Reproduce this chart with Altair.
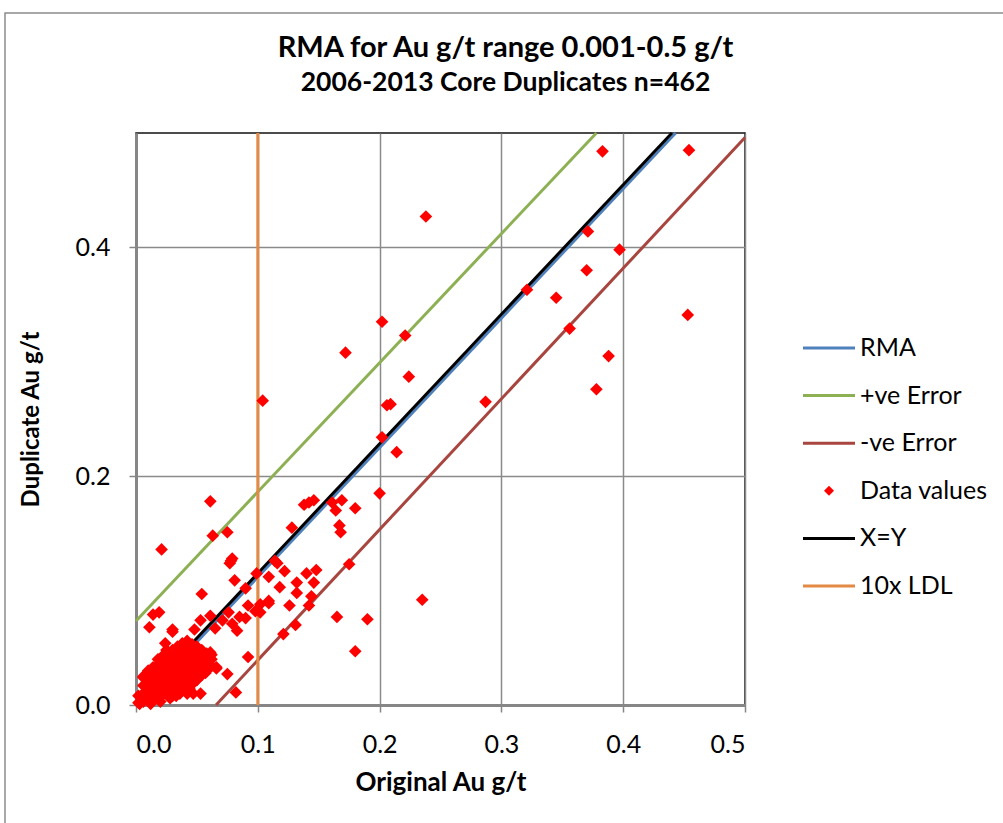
import altair as alt
import pandas as pd

TITLE = "RMA for Au g/t range 0.001-0.5 g/t"
SUBTITLE = "2006-2013 Core Duplicates n=462"
X_TITLE = "Original Au g/t"
Y_TITLE = "Duplicate Au g/t"

series_names = ["RMA", "+ve Error", "-ve Error", "Data values", "X=Y", "10x LDL"]
series_colors = ["#4F81BD", "#8EB054", "#A8453F", "#FF0000", "#000000", "#E48A45"]

x_ticks = [0.0, 0.1, 0.2, 0.3, 0.4, 0.5]
y_ticks = [0.0, 0.2, 0.4]

# line end points
rma_x = [0.048, 0.443]
rma_y = [0.053, 0.5]
pos_x = [0.0, 0.378]
pos_y = [0.0735, 0.5]
neg_x = [0.0657, 0.5]
neg_y = [0.0, 0.496]
xy_x = [0.046, 0.440]
xy_y = [0.054, 0.5]
ldl_x = [0.1, 0.1]
ldl_y = [0.0, 0.5]

# data values (original, duplicate)
orig_high = [0.454, 0.383, 0.238, 0.371, 0.397, 0.370, 0.321, 0.345, 0.453, 0.356,
             0.388, 0.378, 0.287, 0.202, 0.221, 0.172, 0.224, 0.104, 0.206, 0.209,
             0.202, 0.214, 0.200, 0.138, 0.142, 0.146, 0.161, 0.169, 0.164, 0.180,
             0.167, 0.168, 0.128, 0.061, 0.063, 0.075, 0.021, 0.078, 0.079, 0.077,
             0.114, 0.116, 0.175, 0.165, 0.190, 0.180, 0.235]
dup_high = [0.485, 0.484, 0.427, 0.414, 0.398, 0.380, 0.363, 0.356, 0.341, 0.329,
            0.305, 0.276, 0.265, 0.335, 0.323, 0.308, 0.287, 0.266, 0.262, 0.263,
            0.234, 0.221, 0.185, 0.175, 0.177, 0.179, 0.177, 0.179, 0.170, 0.172,
            0.157, 0.151, 0.155, 0.178, 0.148, 0.151, 0.136, 0.126, 0.128, 0.124,
            0.126, 0.124, 0.123, 0.077, 0.075, 0.047, 0.092]

orig_mid = [0.122, 0.140, 0.148, 0.099, 0.109, 0.081, 0.132, 0.146, 0.118, 0.132,
            0.090, 0.054, 0.144, 0.109, 0.109, 0.092, 0.102, 0.126, 0.142, 0.098,
            0.102, 0.061, 0.076, 0.085, 0.090, 0.071, 0.079, 0.053, 0.131, 0.083,
            0.048, 0.065, 0.121, 0.014, 0.019, 0.011, 0.030, 0.030, 0.092, 0.082,
            0.075, 0.066, 0.057, 0.047, 0.042, 0.053, 0.006]
dup_mid = [0.117, 0.115, 0.118, 0.115, 0.112, 0.109, 0.107, 0.107, 0.103, 0.098,
           0.102, 0.097, 0.095, 0.091, 0.089, 0.087, 0.088, 0.087, 0.087, 0.082,
           0.081, 0.078, 0.081, 0.077, 0.076, 0.074, 0.071, 0.074, 0.070, 0.065,
           0.066, 0.067, 0.062, 0.079, 0.081, 0.068, 0.066, 0.064, 0.042, 0.011,
           0.027, 0.033, 0.028, 0.010, 0.010, 0.010, 0.025]

orig_low = [0.002, 0.002,
            0.006, 0.006, 0.006, 0.006,
            0.010, 0.010, 0.010, 0.010, 0.010,
            0.014, 0.014, 0.014, 0.014, 0.014,
            0.018, 0.018, 0.018, 0.018, 0.018, 0.018,
            0.022, 0.022, 0.022, 0.022, 0.022, 0.022,
            0.026, 0.026, 0.026, 0.026, 0.026, 0.026,
            0.030, 0.030, 0.030, 0.030, 0.030, 0.030,
            0.034, 0.034, 0.034, 0.034, 0.034, 0.034,
            0.038, 0.038, 0.038, 0.038, 0.038, 0.038,
            0.042, 0.042, 0.042, 0.042, 0.042, 0.042,
            0.046, 0.046, 0.046, 0.046, 0.046,
            0.050, 0.050, 0.050, 0.050,
            0.054, 0.054, 0.054,
            0.058, 0.058, 0.062,
            0.036, 0.033, 0.028, 0.040, 0.020, 0.012, 0.003, 0.045, 0.050,
            0.040, 0.046, 0.050, 0.054, 0.058, 0.062, 0.066, 0.061, 0.062,
            0.036, 0.030, 0.044, 0.024, 0.025]
dup_low = [0.002, 0.008,
           0.003, 0.010, 0.017, 0.024,
           0.004, 0.011, 0.018, 0.025, 0.030,
           0.005, 0.012, 0.019, 0.026, 0.033,
           0.007, 0.014, 0.021, 0.028, 0.035, 0.040,
           0.009, 0.016, 0.023, 0.030, 0.037, 0.043,
           0.011, 0.018, 0.025, 0.032, 0.039, 0.045,
           0.013, 0.020, 0.027, 0.034, 0.041, 0.048,
           0.016, 0.023, 0.030, 0.037, 0.044, 0.051,
           0.019, 0.026, 0.033, 0.040, 0.047, 0.054,
           0.022, 0.029, 0.036, 0.043, 0.050, 0.056,
           0.025, 0.032, 0.039, 0.046, 0.053,
           0.030, 0.037, 0.044, 0.051,
           0.034, 0.041, 0.048,
           0.038, 0.045, 0.044,
           0.010, 0.008, 0.006, 0.014, 0.003, 0.001, 0.001, 0.018, 0.022,
           0.016, 0.018, 0.022, 0.026, 0.030, 0.034, 0.032, 0.046, 0.040,
           0.018, 0.008, 0.014, 0.054, 0.048]

FONT = "Lato"

line_rows = []
for name, xs, ys in [("RMA", rma_x, rma_y), ("+ve Error", pos_x, pos_y),
                     ("-ve Error", neg_x, neg_y), ("X=Y", xy_x, xy_y),
                     ("10x LDL", ldl_x, ldl_y)]:
    for i, (a, b) in enumerate(zip(xs, ys)):
        line_rows.append({"x": a, "y": b, "series": name, "ord": i})
line_df = pd.DataFrame(line_rows)

orig_all = orig_high + orig_mid + orig_low
dup_all = dup_high + dup_mid + dup_low
pts_df = pd.DataFrame({"x": orig_all, "y": dup_all})

xscale = alt.Scale(domain=[0, 0.5], nice=False, zero=False)
yscale = alt.Scale(domain=[0, 0.5], nice=False, zero=False)
xaxis = alt.Axis(values=x_ticks, format=".1f", title=X_TITLE, labelPadding=20, titlePadding=12,
                 titleFontSize=26)
yaxis = alt.Axis(values=y_ticks, format=".1f", title=Y_TITLE, labelPadding=19, titlePadding=32,
                 titleFontSize=24)

col_scale = alt.Scale(domain=series_names, range=series_colors)

lines = alt.Chart(line_df).mark_line(strokeWidth=3).encode(
    x=alt.X("x:Q", scale=xscale, axis=xaxis),
    y=alt.Y("y:Q", scale=yscale, axis=yaxis),
    stroke=alt.Stroke("series:N", scale=col_scale, legend=None),
    detail="series:N",
    order="ord:Q",
)

points = alt.Chart(pts_df).mark_point(filled=True, shape="diamond", size=160, color="#FF0000", opacity=1).encode(
    x=alt.X("x:Q", scale=xscale),
    y=alt.Y("y:Q", scale=yscale),
)

main = alt.layer(lines, points)

# legend built from the series list
leg_y = alt.Y("series:N", scale=alt.Scale(type="point", domain=series_names, range=[215, 453], padding=0),
              axis=None)
leg_line_df = pd.DataFrame({"series": [s for s in series_names if s != "Data values"]})
leg_pt_df = pd.DataFrame({"series": ["Data values"]})
leg_txt_df = pd.DataFrame({"series": series_names})

leg_rules = alt.Chart(leg_line_df).mark_rule(strokeWidth=3).encode(
    x=alt.value(667), x2=alt.value(719), y=leg_y,
    stroke=alt.Stroke("series:N", scale=col_scale, legend=None),
)
leg_pt = alt.Chart(leg_pt_df).mark_point(filled=True, shape="diamond", size=100, color="#FF0000", opacity=1).encode(
    x=alt.value(693), y=leg_y,
)
leg_txt = alt.Chart(leg_txt_df).mark_text(align="left", baseline="middle", font=FONT, fontSize=25, color="black").encode(
    x=alt.value(724), y=leg_y, text="series:N",
)
legend = alt.layer(leg_rules, leg_pt, leg_txt)

frame = alt.Chart(pd.DataFrame({"a": [0]})).mark_rect(fill=None, stroke="#8c8c8c", strokeWidth=1.5).encode(
    x=alt.value(-131), x2=alt.value(880), y=alt.value(-120), y2=alt.value(700)
)

chart = alt.layer(frame, main, legend).resolve_scale(y="independent").properties(
    width=609, height=572,
    title=alt.TitleParams(TITLE, subtitle=SUBTITLE, anchor="middle", dx=65, offset=-84,
                          font=FONT, fontSize=29, fontWeight="bold",
                          subtitleFont=FONT, subtitleFontSize=26.5, subtitleFontWeight="bold",
                          subtitleColor="black", subtitlePadding=7, color="black"),
    autosize=alt.AutoSizeParams(type="none"),
    padding={"left": 136, "top": 133, "right": 258, "bottom": 118},
).configure_view(
    stroke="#111111", strokeWidth=1.5
).configure_axis(
    gridColor="#8a8a8a", gridWidth=1.5, domainColor="#868686", domainWidth=3,
    tickColor="#868686", tickWidth=1.5, tickSize=7,
    labelFont=FONT, labelFontSize=25, labelColor="black",
    titleFont=FONT, titleFontWeight="bold", titleColor="black",
)

chart.save("out.html", embed_options={"renderer": "svg", "actions": False})
